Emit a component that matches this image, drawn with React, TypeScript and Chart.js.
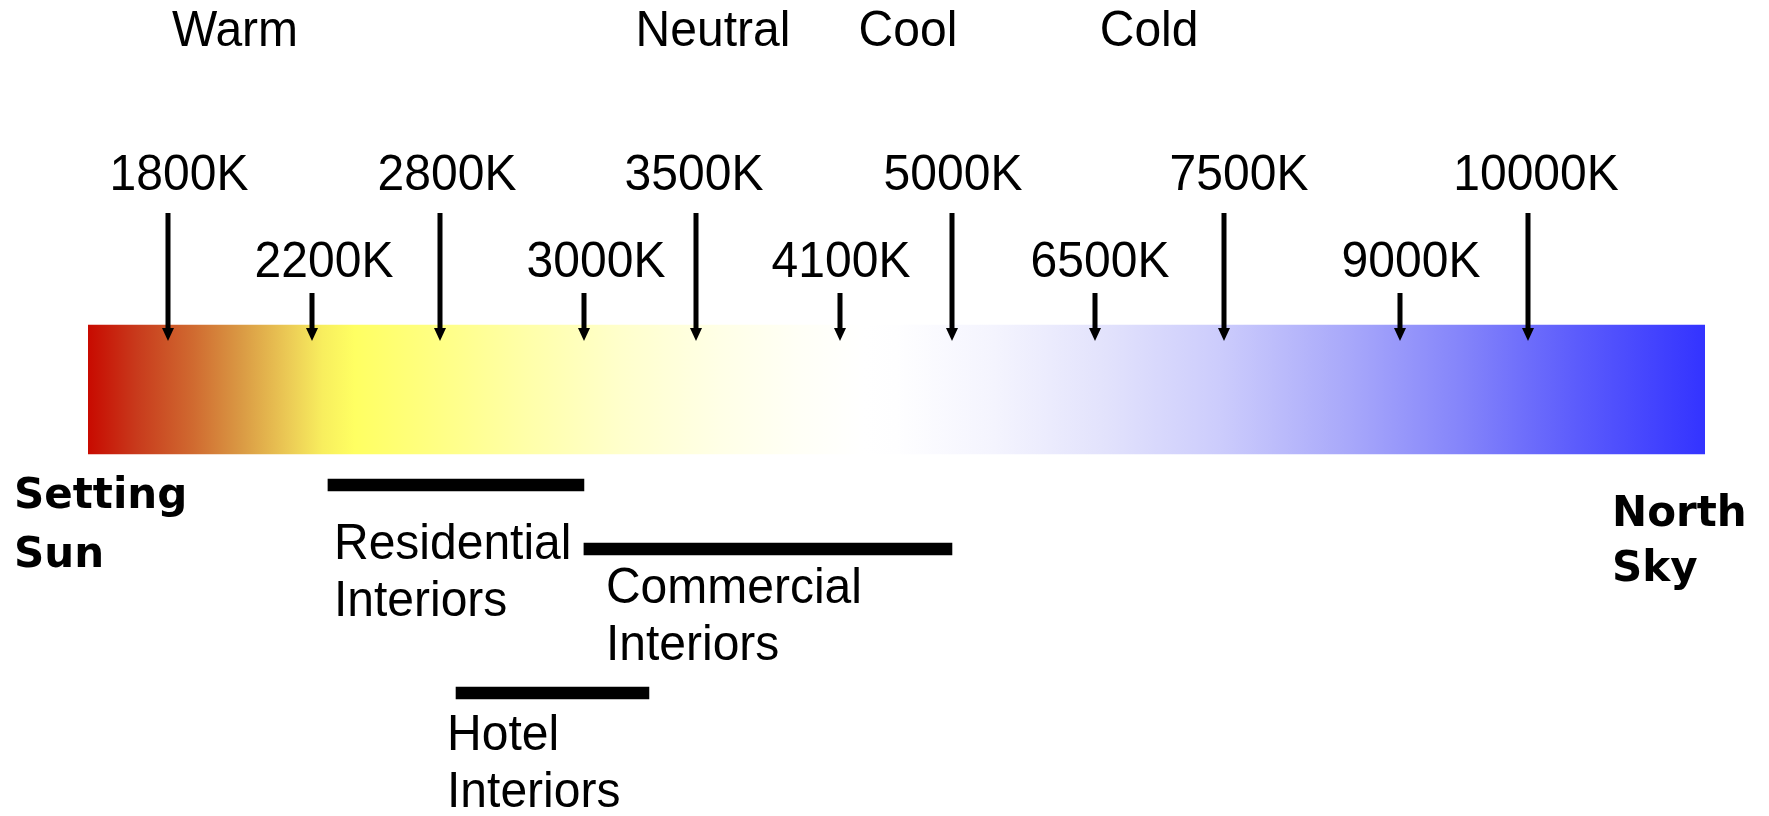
import React, { useEffect, useRef } from "react";
import { Chart, registerables } from "chart.js";

Chart.register(...registerables);

// ---------- DATA ----------
// Positions are in "spectrum units": the colour bar spans 0 (left) .. 100 (right)
const spectrumRange = [0, 100];
const kelvinLabels = ["1800K", "2200K", "2800K", "3000K", "3500K", "4100K", "5000K", "6500K", "7500K", "9000K", "10000K"];
const kelvinPos = [4.95, 13.85, 21.77, 30.67, 37.6, 46.51, 53.43, 62.28, 70.25, 81.14, 89.05];
const kelvinTier = [1, 2, 1, 2, 1, 2, 1, 2, 1, 2, 1]; // 1 = long arrow (upper row), 2 = short arrow
const zoneLabels = ["Warm", "Neutral", "Cool", "Cold"];
const zonePos = [9.09, 38.65, 50.71, 65.62];
const rangeLabels = [
  ["Residential", "Interiors"],
  ["Commercial", "Interiors"],
  ["Hotel", "Interiors"],
];
const rangeStart = [14.84, 30.67, 22.76];
const rangeEnd = [30.67, 53.43, 34.69];
const leftEndLabel = ["Setting", "Sun"];
const rightEndLabel = ["North", "Sky"];

// ---------- LAYOUT / STYLE ----------
const W = 1769;
const H = 816;
const SPECTRUM_ROW_Y = 389.5;
const SPECTRUM_THICKNESS = 129;
const RANGE_ROW_Y = [485, 549, 693];
const RANGE_THICKNESS = 12;
const RANGE_LABEL_OFFSET = [
  { dx: 6, dy: 74 },
  { dx: 22, dy: 54 },
  { dx: -9, dy: 57 },
];
const KELVIN_LABEL_NUDGE = [11, 12, 7, 12, -2, 1, 1, 5, 15, 11, 8];
const TEXT_FONT = "48px 'Liberation Sans', Arial, Helvetica, sans-serif";
const TEXT_SCALE_Y = 1.04;
const BOLD_FONT = "bold 42px 'DejaVu Sans', Verdana, sans-serif";
const LINE_GAP = 57;
const GRADIENT_STOPS: [number, string][] = [
  [0.0, "#C80A00"],
  [0.03, "#C83A1C"],
  [0.065, "#D06A30"],
  [0.095, "#DA9A44"],
  [0.125, "#ECCC56"],
  [0.145, "#F8EE5E"],
  [0.165, "#FFFF62"],
  [0.21, "#FFFF80"],
  [0.27, "#FFFFA8"],
  [0.33, "#FFFFCC"],
  [0.39, "#FFFFE6"],
  [0.44, "#FFFFF6"],
  [0.48, "#FFFFFF"],
  [0.5, "#FEFEFF"],
  [0.56, "#F4F4FE"],
  [0.63, "#E2E2FC"],
  [0.7, "#CCCCFC"],
  [0.78, "#A8A8FA"],
  [0.85, "#8484FA"],
  [0.92, "#5C5CFC"],
  [1.0, "#3333FF"],
];

function drawText(
  ctx: CanvasRenderingContext2D,
  text: string,
  x: number,
  y: number,
  align: CanvasTextAlign,
  font: string,
  sy = 1
) {
  ctx.save();
  ctx.font = font;
  ctx.textAlign = align;
  ctx.textBaseline = "alphabetic";
  ctx.fillStyle = "#000";
  ctx.translate(x, y);
  ctx.scale(1, sy);
  ctx.fillText(text, 0, 0);
  ctx.restore();
}

const annotationPlugin = {
  id: "kelvinAnnotations",
  afterDatasetsDraw(chart: any) {
    const ctx: CanvasRenderingContext2D = chart.ctx;
    const xs = chart.scales.x;
    const ca = chart.chartArea;
    const spec = chart.getDatasetMeta(0).data[0];
    const { y, height } = spec.getProps(["y", "height"], true);
    const top = y - height / 2;
    const bottom = y + height / 2;

    // arrows + kelvin labels
    const tipY = top + 16;
    const headLen = 13;
    const headHalf = 6;
    for (let i = 0; i < kelvinLabels.length; i++) {
      const px = Math.round(xs.getPixelForValue(kelvinPos[i]));
      const startY = kelvinTier[i] === 1 ? top - 112 : top - 32;
      ctx.save();
      ctx.fillStyle = "#000";
      ctx.fillRect(px - 2.5, startY, 5, tipY - headLen - startY + 1);
      ctx.beginPath();
      ctx.moveTo(px - headHalf, tipY - headLen);
      ctx.lineTo(px + headHalf, tipY - headLen);
      ctx.lineTo(px, tipY);
      ctx.closePath();
      ctx.fill();
      ctx.restore();
      const base = kelvinTier[i] === 1 ? top - 135 : top - 48;
      drawText(ctx, kelvinLabels[i], px + KELVIN_LABEL_NUDGE[i], base, "center", TEXT_FONT, TEXT_SCALE_Y);
    }

    // zone labels
    for (let i = 0; i < zoneLabels.length; i++) {
      drawText(ctx, zoneLabels[i], xs.getPixelForValue(zonePos[i]), top - 279, "center", TEXT_FONT, TEXT_SCALE_Y);
    }

    // range labels
    const rangeMeta = chart.getDatasetMeta(1);
    for (let i = 0; i < rangeLabels.length; i++) {
      const el = rangeMeta.data[i];
      const ry = el.getProps(["y"], true).y;
      const rx = xs.getPixelForValue(rangeStart[i]);
      rangeLabels[i].forEach((line, k) => {
        drawText(
          ctx,
          line,
          rx + RANGE_LABEL_OFFSET[i].dx,
          ry + RANGE_LABEL_OFFSET[i].dy + k * LINE_GAP,
          "left",
          TEXT_FONT,
          TEXT_SCALE_Y
        );
      });
    }

    // end labels
    drawText(ctx, leftEndLabel[0], ca.left - 74, bottom + 54, "left", BOLD_FONT);
    drawText(ctx, leftEndLabel[1], ca.left - 74, bottom + 113, "left", BOLD_FONT);
    drawText(ctx, rightEndLabel[0], ca.right - 93, bottom + 72, "left", BOLD_FONT);
    drawText(ctx, rightEndLabel[1], ca.right - 93, bottom + 127, "left", BOLD_FONT);
  },
};

export default function App() {
  const ref = useRef<HTMLCanvasElement>(null);

  useEffect(() => {
    if (!ref.current) return;
    const chart = new Chart(ref.current, {
      type: "bar",
      data: {
        datasets: [
          {
            label: "Spectrum",
            data: [{ x: spectrumRange, y: SPECTRUM_ROW_Y }] as any,
            backgroundColor: (c: any) => {
              const ch = c.chart;
              const xs = ch.scales.x;
              if (!ch.chartArea || !xs) return "#ffffff";
              const g = ch.ctx.createLinearGradient(
                xs.getPixelForValue(spectrumRange[0]),
                0,
                xs.getPixelForValue(spectrumRange[1]),
                0
              );
              GRADIENT_STOPS.forEach(([o, col]) => g.addColorStop(o, col));
              return g;
            },
            borderWidth: 0,
            barThickness: SPECTRUM_THICKNESS,
            grouped: false,
          } as any,
          {
            label: "Ranges",
            data: rangeStart.map((s, i) => ({ x: [s, rangeEnd[i]], y: RANGE_ROW_Y[i] })) as any,
            backgroundColor: "#000000",
            borderWidth: 0,
            barThickness: RANGE_THICKNESS,
            grouped: false,
          } as any,
        ],
      },
      options: {
        indexAxis: "y",
        responsive: false,
        animation: false,
        devicePixelRatio: 1,
        events: [],
        layout: { padding: { left: 88, right: W - 1705, top: 0, bottom: 0 } },
        scales: {
          x: { type: "linear", min: 0, max: 100, display: false, offset: false },
          y: { type: "linear", min: 0, max: H, reverse: true, display: false, offset: false },
        },
        plugins: {
          legend: { display: false },
          tooltip: { enabled: false },
        },
      } as any,
      plugins: [annotationPlugin],
    });
    return () => chart.destroy();
  }, []);

  return (
    <div style={{ position: "fixed", left: 0, top: 0, width: W, height: H, background: "#fff" }}>
      <canvas ref={ref} width={W} height={H} style={{ display: "block", width: W, height: H }} />
    </div>
  );
}
